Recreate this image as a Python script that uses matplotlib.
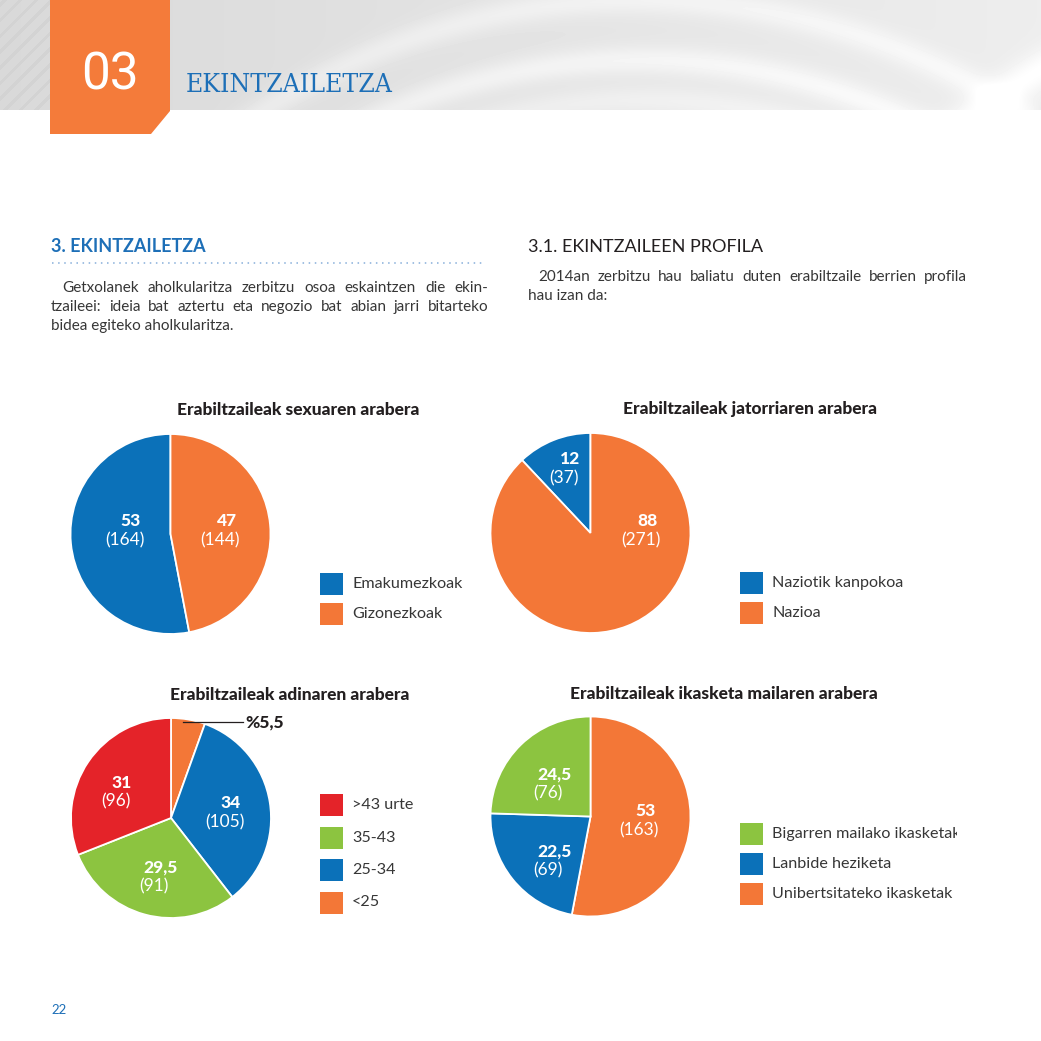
import numpy as np
import matplotlib
matplotlib.use('Agg')
import matplotlib.pyplot as plt
from matplotlib.patches import Rectangle, Polygon
from matplotlib.transforms import Bbox, TransformedBbox

plt.rcParams['font.family'] = ['Lato', 'DejaVu Sans']

# colours of the report
BLUE = '#0B71B9'
ORANGE = '#F37737'
RED = '#E42329'
GREEN = '#8CC440'
DARK = '#231F20'
GREY_TXT = '#363636'
HEAD_BLUE = '#1D6FB7'

# ---- data (percent + number of users) ----
sex_labels = ['Emakumezkoak', 'Gizonezkoak']
sex_pct = [53, 47]
sex_count = [164, 144]

origin_labels = ['Naziotik kanpokoa', 'Nazioa']
origin_pct = [12, 88]
origin_count = [37, 271]

age_labels = ['<25', '25-34', '35-43', '>43 urte']
age_pct = [5.5, 34, 29.5, 31]
age_count = [None, 105, 91, 96]   # <25 only gets the outside label

edu_labels = ['Unibertsitateko ikasketak', 'Lanbide heziketa', 'Bigarren mailako ikasketak']
edu_pct = [53, 22.5, 24.5]
edu_count = [163, 69, 76]


def fmt(v):
    # basque style decimal comma
    s = ('%g' % v)
    return s.replace('.', ',')


W = H = 1041
fig = plt.figure(figsize=(W / 100, H / 100), dpi=100)
ax0 = fig.add_axes([0, 0, 1, 1])
ax0.set_xlim(0, W)
ax0.set_ylim(H, 0)
ax0.axis('off')
renderer = fig.canvas.get_renderer()

# ---- header band ----
xx, yy = np.meshgrid(np.arange(W), np.arange(110))
band = 0.85 + 0.08 * (xx / W)
d = np.hypot(xx - 640, yy - 700)
for R, amp in [(640, 0.06), (600, 0.04), (700, 0.05)]:
    band += amp * np.exp(-((d - R) / 14.0) ** 2)
d2 = np.hypot(xx - 1300, yy - 520)
band += 0.07 * np.exp(-((d2 - 520) / 18.0) ** 2)
band -= 0.03 * np.exp(-((d2 - 480) / 8.0) ** 2)
band[:, :50] -= 0.025 * (np.sin((xx[:, :50] + yy[:, :50]) / 2.5) > 0.6)
band = np.clip(band, 0, 1)
ax0.imshow(band, cmap='gray', vmin=0, vmax=1, extent=(0, W, 110, 0),
           aspect='auto', zorder=0)

ax0.add_patch(Polygon([(50, 0), (170, 0), (170, 111), (151, 134), (50, 134)],
                      closed=True, facecolor='#F47B3A', edgecolor='none', zorder=2))
ax0.text(110, 76, '03', color='white', fontsize=37, family='Roboto',
         ha='center', va='center', zorder=3)
ax0.text(186, 84, 'EKINTZAILETZA', color=HEAD_BLUE, fontsize=19,
         family='DejaVu Serif', fontstretch='condensed', weight='light',
         ha='left', va='center', zorder=3)

# ---- section headings and body text ----
ax0.text(51, 247, '3. EKINTZAILETZA', color=HEAD_BLUE, fontsize=13,
         weight='bold', ha='left', va='center')
ax0.plot([52, 485], [263, 263], color='#86AEDA', lw=1.1,
         linestyle=(0, (1, 3.0)))
ax0.text(528, 247, '3.1. EKINTZAILEEN PROFILA', color=DARK, fontsize=13,
         ha='left', va='center')

BODY = 11


def justified(line, x0, x1, y):
    words = line.split()
    texts = [ax0.text(0, y, w, va='center', ha='left', fontsize=BODY,
                      color=GREY_TXT) for w in words]
    widths = [t.get_window_extent(renderer).width for t in texts]
    gap = (x1 - x0 - sum(widths)) / (len(words) - 1)
    x = x0
    for t, w in zip(texts, widths):
        t.set_x(x)
        x += w + gap


justified('Getxolanek aholkularitza zerbitzu osoa eskaintzen die ekin-', 62, 488, 288)
justified('tzaileei: ideia bat aztertu eta negozio bat abian jarri bitarteko', 51, 488, 307)
ax0.text(51, 326, 'bidea egiteko aholkularitza.', fontsize=BODY, color=GREY_TXT,
         ha='left', va='center')
justified('2014an zerbitzu hau baliatu duten erabiltzaile berrien profila', 538, 967, 277)
ax0.text(528, 296, 'hau izan da:', fontsize=BODY, color=GREY_TXT,
         ha='left', va='center')

ax0.text(51, 1010, '22', fontsize=9.5, color=HEAD_BLUE, ha='left', va='center')

# ---- pie charts ----
charts = [
    dict(title='Erabiltzaileak sexuaren arabera', title_xy=(298, 410),
         pct=sex_pct, count=sex_count, labels=sex_labels, colors=[BLUE, ORANGE],
         ccw=True, center=(170.5, 534),
         label_pos=[(-0.395, 0.13), (0.565, 0.13)],
         legend_xy=(320, 573), legend_step=30, legend_order=[0, 1]),
    dict(title='Erabiltzaileak jatorriaren arabera', title_xy=(750, 409),
         pct=origin_pct, count=origin_count, labels=origin_labels, colors=[BLUE, ORANGE],
         ccw=True, center=(590.5, 533),
         label_pos=[(-0.20, 0.74), (0.565, 0.12)],
         legend_xy=(740, 572), legend_step=30, legend_order=[0, 1]),
    dict(title='Erabiltzaileak adinaren arabera', title_xy=(290, 695),
         pct=age_pct, count=age_count, labels=age_labels,
         colors=[ORANGE, BLUE, GREEN, RED],
         ccw=False, center=(171, 818),
         label_pos=[None, (0.60, 0.15), (-0.105, -0.495), (-0.49, 0.355)],
         legend_xy=(320, 794), legend_step=32.5, legend_order=[3, 2, 1, 0]),
    dict(title='Erabiltzaileak ikasketa mailaren arabera', title_xy=(724, 694),
         pct=edu_pct, count=edu_count, labels=edu_labels,
         colors=[ORANGE, BLUE, GREEN],
         ccw=False, center=(590.5, 816.5),
         label_pos=[(0.55, 0.055), (-0.36, -0.345), (-0.36, 0.425)],
         legend_xy=(740, 823), legend_step=30, legend_order=[2, 1, 0]),
]

# legend text is cut off at the page's right text margin
clip_box = TransformedBbox(Bbox([[0, 0], [957, H]]), ax0.transData)

R_PX = 100
pie_axes = []
for ch in charts:
    cx, cy = ch['center']
    ax = fig.add_axes([(cx - R_PX) / W, (H - cy - R_PX) / H, 2 * R_PX / W, 2 * R_PX / H])
    ax.pie(ch['pct'], colors=ch['colors'], startangle=90, counterclock=ch['ccw'],
           wedgeprops=dict(edgecolor='white', linewidth=1.3))
    ax.set_xlim(-1, 1)
    ax.set_ylim(-1, 1)
    ax.axis('off')
    pie_axes.append(ax)

    for v, n, pos in zip(ch['pct'], ch['count'], ch['label_pos']):
        if pos is None:
            continue
        ax.text(pos[0], pos[1], fmt(v), color='white', fontsize=12.5, weight='black',
                ha='center', va='center', clip_on=False)
        ax.text(pos[0] - 0.065, pos[1] - 0.19, '(%d)' % n, color='white', fontsize=12.5,
                ha='center', va='center', clip_on=False)

    ax0.text(ch['title_xy'][0], ch['title_xy'][1], ch['title'], color=DARK,
             fontsize=12.5, weight='black', ha='center', va='center')

    # legend squares
    lx, ly = ch['legend_xy']
    for k, idx in enumerate(ch['legend_order']):
        y = ly + k * ch['legend_step']
        ax0.add_patch(Rectangle((lx, y), 23, 22, facecolor=ch['colors'][idx],
                                edgecolor='none'))
        t = ax0.text(lx + 32, y + 11, ch['labels'][idx], color=GREY_TXT,
                     fontsize=11.6, ha='left', va='center')
        t.set_clip_box(clip_box)
        t.set_clip_on(True)

# small <25 slice gets a leader line
ax_age = pie_axes[2]
ax_age.plot([0.12, 0.72], [0.96, 0.96], color=DARK, lw=0.9, clip_on=False)
ax_age.text(0.74, 0.955, '%' + fmt(age_pct[0]), color=DARK, fontsize=12.5,
            weight='black', ha='left', va='center', clip_on=False)

fig.savefig('out.png', dpi=100)
